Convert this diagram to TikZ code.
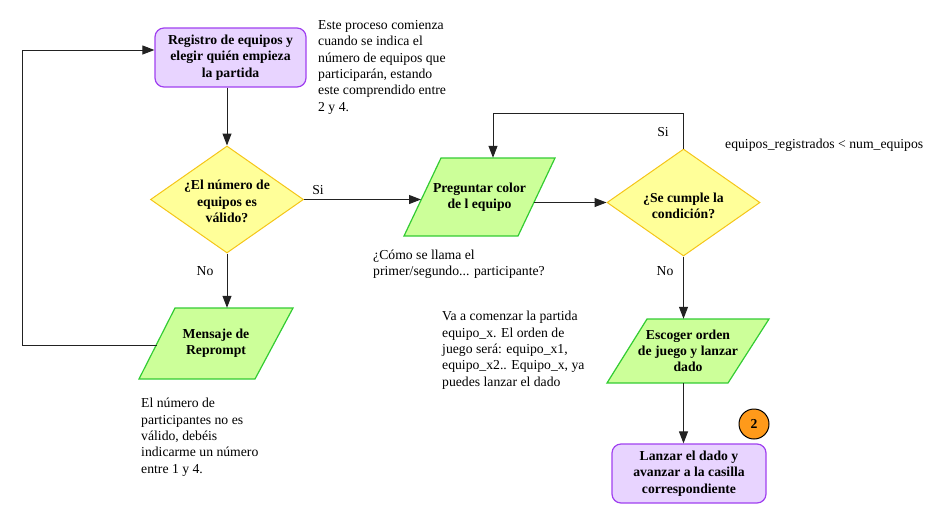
\documentclass[tikz,border=0pt]{standalone}
\usepackage{fontspec}
\setmainfont{Liberation Serif}
\usetikzlibrary{arrows.meta,shapes.geometric}
\definecolor{purfill}{HTML}{E8D4FF}
\definecolor{purdraw}{HTML}{A040F0}
\definecolor{grfill}{HTML}{CCFF99}
\definecolor{grdraw}{HTML}{33CC33}
\definecolor{yefill}{HTML}{FFFF99}
\definecolor{yedraw}{HTML}{F5C518}
\definecolor{orfill}{HTML}{FF9A1A}
\definecolor{linec}{HTML}{222222}
\newcommand{\myfont}{\fontsize{13.7}{16.3}\selectfont}
\begin{document}
\begin{tikzpicture}[x=1pt,y=-1pt,font=\myfont,
  procbox/.style={draw=purdraw,fill=purfill,line width=1.2pt,rounded corners=9pt,
     align=center,font=\myfont\bfseries,inner sep=0pt},
  dia/.style={diamond,draw=yedraw,fill=yefill,line width=1pt,inner sep=0pt,
     minimum width=153pt,minimum height=107pt},
  para/.style={draw=grdraw,fill=grfill,line width=1.2pt,line join=miter},
  boldtxt/.style={font=\myfont\bfseries,align=center,inner sep=0pt},
  note/.style={align=left,inner sep=0pt,anchor=base west},
  lbl/.style={inner sep=0pt},
  arr/.style={-{Triangle[length=12pt,width=9pt]},line width=1pt,draw=linec},
  conn/.style={line width=1pt,draw=linec}]
\useasboundingbox (0,0) rectangle (945,531);

% top process box
\node[procbox,minimum width=151pt,minimum height=59pt] (reg) at (230.5,57.5)
  {Registro de equipos y\\elegir quién empieza\\la partida};

% decision 1
\node[dia] (d1) at (227,199.5) {};
\node[boldtxt] (d1t) at (227,201.5) {¿El número de\\equipos es\\válido?};

% parallelogram: Preguntar color
\draw[para] (441,158) -- (555,158) -- (518,236) -- (404,236) -- cycle;
\node[boldtxt,minimum width=151pt,minimum height=78pt] (p1) at (479.5,197)
  {Preguntar color\\de l equipo};

% decision 2
\node[dia] (d2) at (683.5,202.5) {};
\node[boldtxt] (d2t) at (683.5,205.5) {¿Se cumple la\\condición?};

% parallelogram: Mensaje de Reprompt
\draw[para] (175,308) -- (293,308) -- (255,379) -- (139,379) -- cycle;
\node[boldtxt,minimum width=154pt,minimum height=71pt] (pm) at (216,343.5)
  {Mensaje de\\Reprompt};

% parallelogram: Escoger orden
\draw[para] (647,319) -- (769,319) -- (728,383) -- (607,383) -- cycle;
\node[boldtxt,minimum width=162pt,minimum height=64pt] (p2) at (688,351)
  {Escoger orden\\de juego y lanzar\\dado};

% final process box
\node[procbox,minimum width=154pt,minimum height=59pt] (fin) at (689,473.5)
  {Lanzar el dado y\\avanzar a la casilla\\correspondiente};

% connector badge
\node[circle,draw=black,fill=orfill,line width=1pt,minimum size=30pt,inner sep=0pt,
  font=\myfont\bfseries] (two) at (754,424) {2};

% coordinates for connector ends
\coordinate (p1in) at (421,199.5);
\coordinate (p1out) at (534,202.5);
\coordinate (pmout) at (156.5,345);
\coordinate (lc1) at (22,345);
\coordinate (lc2) at (22,50);
\coordinate (lp1) at (683.5,113);
\coordinate (lp2) at (493,113);

% connectors
\draw[arr] (reg.south -| d1.north) -- (d1.north);
\draw[arr] (d1.east) -- (p1in);
\draw[arr] (d1.south) -- (d1.south |- pm.north);
\draw[arr] (pmout) -- (lc1) -- (lc2) -- (lc2 -| reg.west);
\draw[arr] (p1out) -- (d2.west);
\draw[arr] (d2.north) -- (lp1) -- (lp2) -- (lp2 |- p1.north);
\draw[arr] (d2.south) -- (d2.south |- p2.north);
\draw[arr] (d2.south |- p2.south) -- (d2.south |- fin.north);

% connector labels
\node[lbl] (si1) at (318,190) {Si};
\node[lbl] (no1) at (205,271) {No};
\node[lbl] (si2) at (663,132) {Si};
\node[lbl] (no2) at (665,271) {No};
\node[lbl,anchor=west] (cond) at (725,145) {equipos\_registrados < num\_equipos};

% notes (anchored at the baseline of their last line)
\node[note] (t1) at (318,111) {Este proceso comienza\\cuando se indica el\\número de equipos que\\participarán, estando\\este comprendido entre\\2 y 4.};
\node[note] (t2) at (373,275.5) {¿Cómo se llama el\\primer/segundo... participante?};
\node[note] (t3) at (442,386) {Va a comenzar la partida\\equipo\_x. El orden de\\juego será: equipo\_x1,\\equipo\_x2.. Equipo\_x, ya\\puedes lanzar el dado};
\node[note] (t4) at (141,473) {El número de\\participantes no es\\válido, debéis\\indicarme un número\\entre 1 y 4.};
\end{tikzpicture}
\end{document}
